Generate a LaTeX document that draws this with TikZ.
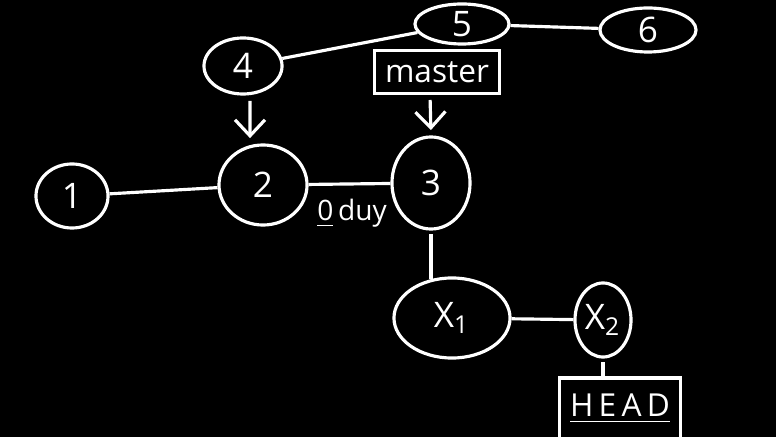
\documentclass[tikz,border=0pt]{standalone}
\usepackage{fontspec}
\setmainfont{Open Sans}
\usepackage{tikz}
\usetikzlibrary{shapes.geometric, arrows, arrows.meta, positioning}

\begin{document}
\begin{tikzpicture}[
    x=0.01cm, y=-0.01cm,
    every node/.style={text=white, font=\small},
    commit/.style={ellipse, draw=white, line width=0.9pt, inner sep=0pt, font=\normalsize},
    tag/.style={rectangle, draw=white, line width=0.9pt, inner sep=3pt},
    link/.style={draw=white, line width=0.9pt},
    pointer/.style={link, -{Straight Barb[length=1.6mm, width=3mm]}, shorten <=1.5pt, shorten >=1.5pt}
]
    \fill[black] (0,0) rectangle (776,437);
    \useasboundingbox (0,0) rectangle (776,437);

    % commits
    \node[commit, minimum width=0.72cm, minimum height=0.64cm] (c1) at (72,196) {1};
    \node[commit, minimum width=0.88cm, minimum height=0.80cm] (c2) at (263,185) {2};
    \node[commit, minimum width=0.78cm, minimum height=0.92cm] (c3) at (431,183) {3};
    \node[commit, minimum width=0.78cm, minimum height=0.56cm] (c4) at (243,66) {4};
    \node[commit, minimum width=0.94cm, minimum height=0.40cm] (c5) at (462,24) {5};
    \node[commit, minimum width=0.96cm, minimum height=0.44cm] (c6) at (648,30) {6};
    \node[commit, minimum width=1.16cm, minimum height=0.80cm] (x1) at (452,318) {X\textsubscript{1}};
    \node[commit, minimum width=0.56cm, minimum height=0.74cm] (x2) at (603,320) {X\textsubscript{2}};

    % refs
    \node[tag, minimum width=1.08cm, minimum height=0.38cm] (master) at (437,72) {master};
    \node[tag, minimum width=1.14cm, minimum height=0.62cm] (head) at (620,409) {\underline{H\,E\,A\,D}};
    \node[font=\footnotesize] (branch) at (352,213) {\underline{0}\,duy};

    % history
    \draw[link] (c1) -- (c2);
    \draw[link] (c2) -- (c3);
    \draw[link] (c4) -- (c5);
    \draw[link] (c5) -- (c6);
    \draw[link, shorten <=1pt] (c3.south) -- ([yshift=-0.03cm]c3.south |- x1.north);
    \draw[link] (x1) -- (x2);
    \draw[link, shorten <=1pt] (x2.south) -- (x2.south |- head.north);

    % pointers
    \draw[pointer] ([xshift=0.7mm]c4.south) -- ([xshift=-1.3mm]c2.north);
    \draw[pointer] ([xshift=-0.7mm]master.south) -- (c3.north);
\end{tikzpicture}
\end{document}
